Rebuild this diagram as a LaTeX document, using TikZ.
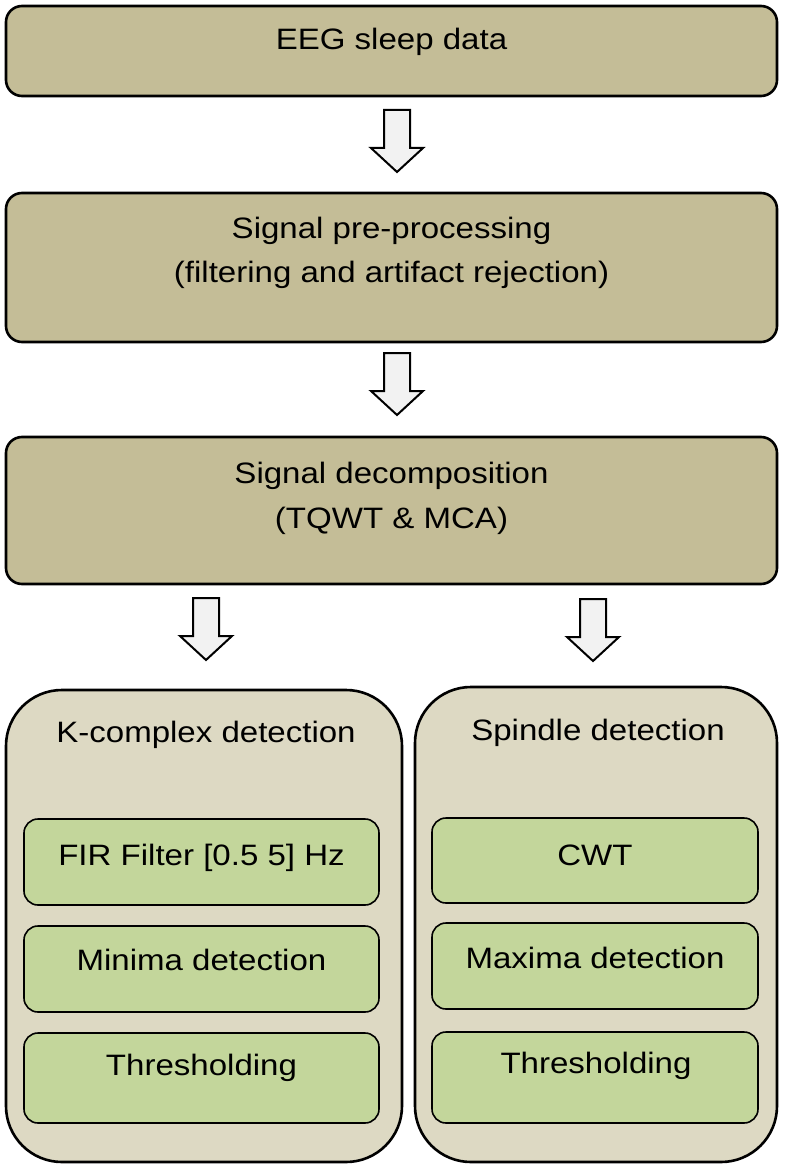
\documentclass[tikz,border=0pt]{standalone}
\usepackage{fontspec}
\setmainfont{Liberation Sans}[FakeStretch=1.12]
\definecolor{tanbox}{HTML}{C4BD97}
\definecolor{panel}{HTML}{DDD9C3}
\definecolor{greenbox}{HTML}{C3D69B}
\definecolor{arrowfill}{HTML}{F2F2F2}
\newcommand{\bdarrow}[1]{%
  \draw[blockarrow] ($(#1)+(-13,0)$) -- ++(0,38) -- ++(-13,0) -- ($(#1)+(0,62)$)
    -- ($(#1)+(26,38)$) -- ++(-13,0) -- ($(#1)+(13,0)$) -- cycle;}
\usetikzlibrary{calc}
\begin{document}
\begin{tikzpicture}[x=1pt,y=-1pt,
  mainbox/.style={draw=black,line width=2.6pt,fill=tanbox,rounded corners=16pt,inner sep=0pt},
  panelbox/.style={draw=black,line width=2.6pt,fill=panel,rounded corners=56pt,inner sep=0pt},
  stepbox/.style={draw=black,line width=1.6pt,fill=greenbox,rounded corners=14pt,inner sep=0pt},
  lbl/.style={font=\fontsize{29.5}{34}\selectfont,inner sep=0pt,anchor=center},
  blockarrow/.style={draw=black,line width=2pt,fill=arrowfill,line join=miter}]
\useasboundingbox (0,0) rectangle (784,1169);
% main boxes
\node[mainbox,minimum width=771pt,minimum height=90pt] (b1) at (391.5,51) {};
\node[mainbox,minimum width=771pt,minimum height=149pt] (b2) at (391.5,267.5) {};
\node[mainbox,minimum width=771pt,minimum height=147pt] (b3) at (391.5,510.5) {};
\node[lbl] (t1) at (391.5,42) {EEG sleep data};
\node[lbl] (t2a) at (391.5,231) {Signal pre-processing};
\node[lbl] (t2b) at (391.5,275) {(filtering and artifact rejection)};
\node[lbl] (t3a) at (391.5,476) {Signal decomposition};
\node[lbl] (t3b) at (391.5,521) {(TQWT \& MCA)};
% arrows
\coordinate (a1) at (397,110);
\coordinate (a2) at (397,353);
\coordinate (a3) at (206,598);
\coordinate (a4) at (593,599);
\bdarrow{a1}
\bdarrow{a2}
\bdarrow{a3}
\bdarrow{a4}
% panels
\node[panelbox,minimum width=396pt,minimum height=472pt] (pk) at (204,926) {};
\node[panelbox,minimum width=362pt,minimum height=475pt] (ps) at (596,924.5) {};
\node[lbl] (tk) at (206,735) {K-complex detection};
\node[lbl] (ts) at (598,733) {Spindle detection};
% left steps
\node[stepbox,minimum width=355pt,minimum height=86pt] (k1) at (201.5,862) {};
\node[stepbox,minimum width=355pt,minimum height=86pt] (k2) at (201.5,969) {};
\node[stepbox,minimum width=355pt,minimum height=90pt] (k3) at (201.5,1078) {};
\node[lbl] (tk1) at (201.5,858) {FIR Filter [0.5 5] Hz};
\node[lbl] (tk2) at (201.5,960) {Minima detection};
\node[lbl] (tk3) at (201.5,1068) {Thresholding};
% right steps
\node[stepbox,minimum width=326pt,minimum height=85pt] (s1) at (595,860.5) {};
\node[stepbox,minimum width=326pt,minimum height=86pt] (s2) at (595,966) {};
\node[stepbox,minimum width=326pt,minimum height=91pt] (s3) at (595,1077.5) {};
\node[lbl] (ts1) at (595,855) {CWT};
\node[lbl] (ts2) at (595,958) {Maxima detection};
\node[lbl] (ts3) at (596,1066) {Thresholding};
\end{tikzpicture}
\end{document}
